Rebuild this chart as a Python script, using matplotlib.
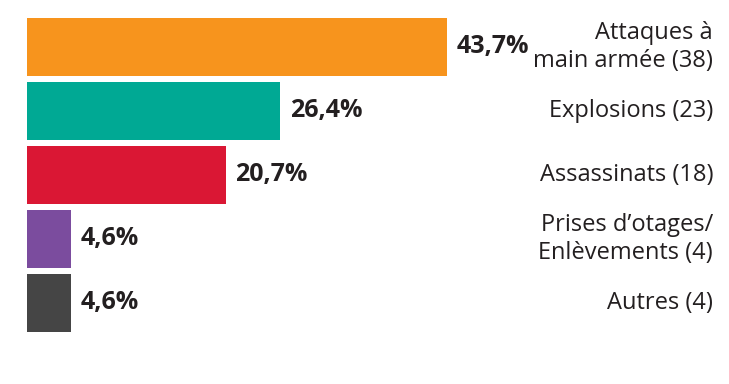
import matplotlib.pyplot as plt
import matplotlib.transforms as mtransforms

# Types d'attaques, part en % et nombre
categories = ['Attaques à\nmain armée (38)', 'Explosions (23)', 'Assassinats (18)',
              'Prises d\u2019otages/\nEnlèvements (4)', 'Autres (4)']
percents = [43.7, 26.4, 20.7, 4.6, 4.6]
pct_labels = ['43,7%', '26,4%', '20,7%', '4,6%', '4,6%']
colors = ['#F7941D', '#00A994', '#DA1734', '#7B4C9E', '#454545']
text_color = '#231F20'

plt.rcParams['font.family'] = ['Open Sans', 'DejaVu Sans']

fig = plt.figure(figsize=(7.29, 3.84), dpi=100)
ax = fig.add_axes([27 / 729, 52 / 384, 702 / 729, 314 / 384])

y = list(range(len(categories)))
ax.barh(y, percents, height=58 / 64, color=colors)
# bars fill the axes height exactly
ax.set_ylim(len(categories) - 0.5 - 3 / 64, -0.5 + 3 / 64)
ax.set_xlim(0, 702 / 9.6)

for i, (p, lab) in enumerate(zip(percents, pct_labels)):
    ax.annotate(lab, (p, i), xytext=(7, 0), textcoords='offset points',
                va='center', ha='left', fontsize=18, fontweight='bold',
                color=text_color)

trans = mtransforms.blended_transform_factory(fig.transFigure, ax.transData)
for i, cat in enumerate(categories):
    ax.text(713 / 729, i, cat, transform=trans, ha='right', va='center',
            fontsize=17, color=text_color, linespacing=1.25)

ax.axis('off')
fig.savefig('out.png', dpi=100)
